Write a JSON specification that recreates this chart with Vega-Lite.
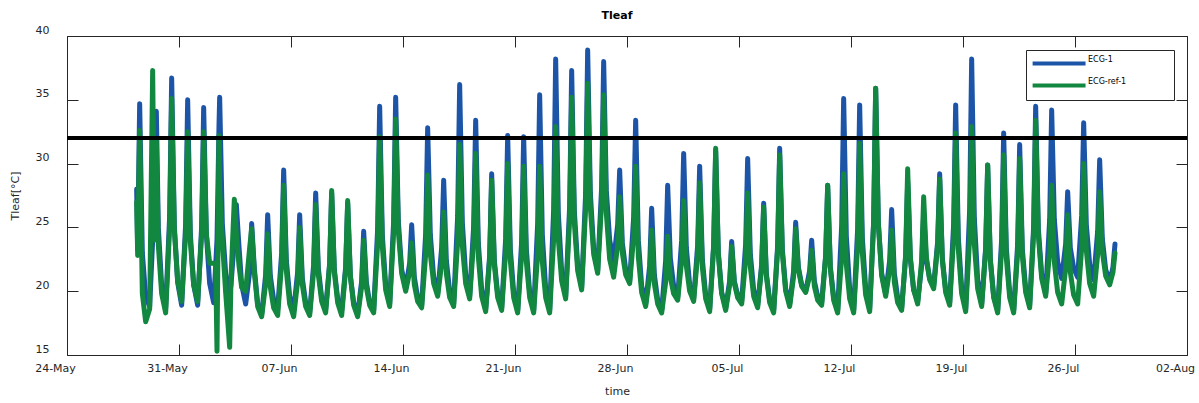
{
  "$schema": "https://vega.github.io/schema/vega-lite/v6.json",
  "width": 1120,
  "height": 319,
  "autosize": {"type": "none"},
  "padding": {"left": 67, "top": 36, "right": 12, "bottom": 48},
  "background": "white",
  "config": {
    "font": "DejaVu Sans",
    "view": {"stroke": "#262626", "strokeWidth": 1},
    "axis": {
      "grid": false, "domain": false,
      "labelFont": "DejaVu Sans", "labelFontSize": 11, "labelColor": "#262626",
      "titleFont": "DejaVu Sans", "titleFontSize": 11, "titleFontWeight": "normal", "titleColor": "#262626",
      "tickColor": "#262626", "tickSize": -11, "tickWidth": 1
    }
  },
  "title": {"text": "Tleaf", "font": "DejaVu Sans", "fontSize": 11, "fontWeight": "bold", "color": "#000000", "offset": 3, "dx": -10},
  "datasets": {
    "tleaf": [
      {"t":"2021-05-28T08:30","ECG-1":28.0,"ECG-ref-1":27.0},
      {"t":"2021-05-28T10:00","ECG-1":23.3,"ECG-ref-1":22.8},
      {"t":"2021-05-28T13:00","ECG-1":34.7,"ECG-ref-1":32.6},
      {"t":"2021-05-28T17:00","ECG-1":23.0,"ECG-ref-1":19.8},
      {"t":"2021-05-28T22:00","ECG-1":19.6,"ECG-ref-1":17.6},
      {"t":"2021-05-29T04:00","ECG-1":18.8,"ECG-ref-1":18.6},
      {"t":"2021-05-29T08:30","ECG-1":24.0,"ECG-ref-1":37.3},
      {"t":"2021-05-29T11:00","ECG-1":27.5,"ECG-ref-1":24.0},
      {"t":"2021-05-29T14:00","ECG-1":34.1,"ECG-ref-1":31.8},
      {"t":"2021-05-29T17:00","ECG-1":25.0,"ECG-ref-1":23.6},
      {"t":"2021-05-29T22:00","ECG-1":20.4,"ECG-ref-1":19.8},
      {"t":"2021-05-30T04:00","ECG-1":18.7,"ECG-ref-1":18.3},
      {"t":"2021-05-30T10:00","ECG-1":25.9,"ECG-ref-1":25.0},
      {"t":"2021-05-30T13:00","ECG-1":36.7,"ECG-ref-1":35.1},
      {"t":"2021-05-30T17:00","ECG-1":25.1,"ECG-ref-1":24.8},
      {"t":"2021-05-30T22:00","ECG-1":20.7,"ECG-ref-1":20.8},
      {"t":"2021-05-31T04:00","ECG-1":18.9,"ECG-ref-1":19.2},
      {"t":"2021-05-31T10:00","ECG-1":25.3,"ECG-ref-1":24.5},
      {"t":"2021-05-31T13:00","ECG-1":35.0,"ECG-ref-1":32.5},
      {"t":"2021-05-31T17:00","ECG-1":24.5,"ECG-ref-1":23.9},
      {"t":"2021-05-31T22:00","ECG-1":20.5,"ECG-ref-1":20.5},
      {"t":"2021-06-01T04:00","ECG-1":18.9,"ECG-ref-1":19.2},
      {"t":"2021-06-01T10:00","ECG-1":25.1,"ECG-ref-1":24.5},
      {"t":"2021-06-01T13:00","ECG-1":34.4,"ECG-ref-1":32.5},
      {"t":"2021-06-01T17:00","ECG-1":24.5,"ECG-ref-1":24.5},
      {"t":"2021-06-01T22:00","ECG-1":20.6,"ECG-ref-1":22.2},
      {"t":"2021-06-02T04:00","ECG-1":19.1,"ECG-ref-1":22.2},
      {"t":"2021-06-02T07:00","ECG-1":22.0,"ECG-ref-1":22.2},
      {"t":"2021-06-02T09:00","ECG-1":24.0,"ECG-ref-1":15.3},
      {"t":"2021-06-02T12:00","ECG-1":33.0,"ECG-ref-1":32.2},
      {"t":"2021-06-02T13:00","ECG-1":35.2,"ECG-ref-1":28.0},
      {"t":"2021-06-02T17:00","ECG-1":25.3,"ECG-ref-1":24.0},
      {"t":"2021-06-02T22:00","ECG-1":21.4,"ECG-ref-1":19.9},
      {"t":"2021-06-03T04:00","ECG-1":19.9,"ECG-ref-1":15.6},
      {"t":"2021-06-03T06:00","ECG-1":20.5,"ECG-ref-1":21.0},
      {"t":"2021-06-03T11:00","ECG-1":24.0,"ECG-ref-1":27.2},
      {"t":"2021-06-03T14:00","ECG-1":26.8,"ECG-ref-1":24.5},
      {"t":"2021-06-03T18:00","ECG-1":23.5,"ECG-ref-1":22.0},
      {"t":"2021-06-03T22:00","ECG-1":20.5,"ECG-ref-1":20.3},
      {"t":"2021-06-04T04:00","ECG-1":19.0,"ECG-ref-1":20.0},
      {"t":"2021-06-04T10:00","ECG-1":21.5,"ECG-ref-1":23.4},
      {"t":"2021-06-04T13:00","ECG-1":25.3,"ECG-ref-1":24.9},
      {"t":"2021-06-04T17:00","ECG-1":21.8,"ECG-ref-1":21.5},
      {"t":"2021-06-04T22:00","ECG-1":19.0,"ECG-ref-1":18.8},
      {"t":"2021-06-05T04:00","ECG-1":18.2,"ECG-ref-1":18.0},
      {"t":"2021-06-05T10:00","ECG-1":21.3,"ECG-ref-1":20.6},
      {"t":"2021-06-05T13:00","ECG-1":26.0,"ECG-ref-1":24.5},
      {"t":"2021-06-05T17:00","ECG-1":21.2,"ECG-ref-1":20.3},
      {"t":"2021-06-05T22:00","ECG-1":19.3,"ECG-ref-1":18.7},
      {"t":"2021-06-06T04:00","ECG-1":18.6,"ECG-ref-1":18.1},
      {"t":"2021-06-06T10:00","ECG-1":23.0,"ECG-ref-1":22.2},
      {"t":"2021-06-06T13:00","ECG-1":29.5,"ECG-ref-1":28.3},
      {"t":"2021-06-06T17:00","ECG-1":22.4,"ECG-ref-1":21.6},
      {"t":"2021-06-06T22:00","ECG-1":19.6,"ECG-ref-1":19.0},
      {"t":"2021-06-07T04:00","ECG-1":18.5,"ECG-ref-1":18.0},
      {"t":"2021-06-07T10:00","ECG-1":21.5,"ECG-ref-1":20.8},
      {"t":"2021-06-07T13:00","ECG-1":26.0,"ECG-ref-1":25.0},
      {"t":"2021-06-07T17:00","ECG-1":21.0,"ECG-ref-1":20.5},
      {"t":"2021-06-07T22:00","ECG-1":19.1,"ECG-ref-1":18.8},
      {"t":"2021-06-08T04:00","ECG-1":18.3,"ECG-ref-1":18.1},
      {"t":"2021-06-08T10:00","ECG-1":22.1,"ECG-ref-1":21.6},
      {"t":"2021-06-08T13:00","ECG-1":27.7,"ECG-ref-1":26.8},
      {"t":"2021-06-08T17:00","ECG-1":21.8,"ECG-ref-1":21.3},
      {"t":"2021-06-08T22:00","ECG-1":19.5,"ECG-ref-1":19.2},
      {"t":"2021-06-09T04:00","ECG-1":18.6,"ECG-ref-1":18.3},
      {"t":"2021-06-09T10:00","ECG-1":22.2,"ECG-ref-1":22.1},
      {"t":"2021-06-09T13:00","ECG-1":27.7,"ECG-ref-1":27.9},
      {"t":"2021-06-09T17:00","ECG-1":21.7,"ECG-ref-1":21.5},
      {"t":"2021-06-09T22:00","ECG-1":19.4,"ECG-ref-1":19.1},
      {"t":"2021-06-10T04:00","ECG-1":18.5,"ECG-ref-1":18.1},
      {"t":"2021-06-10T10:00","ECG-1":21.9,"ECG-ref-1":21.7},
      {"t":"2021-06-10T13:00","ECG-1":26.9,"ECG-ref-1":27.1},
      {"t":"2021-06-10T17:00","ECG-1":21.2,"ECG-ref-1":21.2},
      {"t":"2021-06-10T22:00","ECG-1":19.1,"ECG-ref-1":18.9},
      {"t":"2021-06-11T04:00","ECG-1":18.2,"ECG-ref-1":18.0},
      {"t":"2021-06-11T10:00","ECG-1":20.8,"ECG-ref-1":20.4},
      {"t":"2021-06-11T13:00","ECG-1":24.7,"ECG-ref-1":24.0},
      {"t":"2021-06-11T17:00","ECG-1":20.7,"ECG-ref-1":20.3},
      {"t":"2021-06-11T22:00","ECG-1":19.1,"ECG-ref-1":18.9},
      {"t":"2021-06-12T04:00","ECG-1":18.5,"ECG-ref-1":18.3},
      {"t":"2021-06-12T10:00","ECG-1":24.9,"ECG-ref-1":23.8},
      {"t":"2021-06-12T13:00","ECG-1":34.5,"ECG-ref-1":32.1},
      {"t":"2021-06-12T17:00","ECG-1":24.4,"ECG-ref-1":23.5},
      {"t":"2021-06-12T22:00","ECG-1":20.5,"ECG-ref-1":20.1},
      {"t":"2021-06-13T04:00","ECG-1":19.0,"ECG-ref-1":18.8},
      {"t":"2021-06-13T10:00","ECG-1":25.5,"ECG-ref-1":24.7},
      {"t":"2021-06-13T13:00","ECG-1":35.2,"ECG-ref-1":33.5},
      {"t":"2021-06-13T17:00","ECG-1":25.5,"ECG-ref-1":24.7},
      {"t":"2021-06-13T22:00","ECG-1":21.7,"ECG-ref-1":21.4},
      {"t":"2021-06-14T04:00","ECG-1":20.2,"ECG-ref-1":20.0},
      {"t":"2021-06-14T10:00","ECG-1":22.2,"ECG-ref-1":21.5},
      {"t":"2021-06-14T13:00","ECG-1":25.2,"ECG-ref-1":23.8},
      {"t":"2021-06-14T17:00","ECG-1":21.1,"ECG-ref-1":20.5},
      {"t":"2021-06-14T22:00","ECG-1":19.5,"ECG-ref-1":19.2},
      {"t":"2021-06-15T04:00","ECG-1":18.9,"ECG-ref-1":18.7},
      {"t":"2021-06-15T10:00","ECG-1":24.5,"ECG-ref-1":22.9},
      {"t":"2021-06-15T13:00","ECG-1":32.8,"ECG-ref-1":29.1},
      {"t":"2021-06-15T17:00","ECG-1":24.4,"ECG-ref-1":22.9},
      {"t":"2021-06-15T22:00","ECG-1":21.1,"ECG-ref-1":20.6},
      {"t":"2021-06-16T04:00","ECG-1":19.8,"ECG-ref-1":19.6},
      {"t":"2021-06-16T10:00","ECG-1":23.4,"ECG-ref-1":22.2},
      {"t":"2021-06-16T13:00","ECG-1":28.7,"ECG-ref-1":26.2},
      {"t":"2021-06-16T17:00","ECG-1":22.4,"ECG-ref-1":21.4},
      {"t":"2021-06-16T22:00","ECG-1":20.0,"ECG-ref-1":19.5},
      {"t":"2021-06-17T04:00","ECG-1":19.0,"ECG-ref-1":18.8},
      {"t":"2021-06-17T10:00","ECG-1":25.9,"ECG-ref-1":23.9},
      {"t":"2021-06-17T13:00","ECG-1":36.2,"ECG-ref-1":31.5},
      {"t":"2021-06-17T17:00","ECG-1":25.4,"ECG-ref-1":23.6},
      {"t":"2021-06-17T22:00","ECG-1":21.3,"ECG-ref-1":20.6},
      {"t":"2021-06-18T04:00","ECG-1":19.6,"ECG-ref-1":19.4},
      {"t":"2021-06-18T10:00","ECG-1":25.1,"ECG-ref-1":24.0},
      {"t":"2021-06-18T13:00","ECG-1":33.4,"ECG-ref-1":30.8},
      {"t":"2021-06-18T17:00","ECG-1":23.8,"ECG-ref-1":22.7},
      {"t":"2021-06-18T22:00","ECG-1":20.1,"ECG-ref-1":19.6},
      {"t":"2021-06-19T04:00","ECG-1":18.6,"ECG-ref-1":18.4},
      {"t":"2021-06-19T10:00","ECG-1":22.8,"ECG-ref-1":22.5},
      {"t":"2021-06-19T13:00","ECG-1":29.2,"ECG-ref-1":28.7},
      {"t":"2021-06-19T17:00","ECG-1":22.4,"ECG-ref-1":22.1},
      {"t":"2021-06-19T22:00","ECG-1":19.8,"ECG-ref-1":19.5},
      {"t":"2021-06-20T04:00","ECG-1":18.7,"ECG-ref-1":18.5},
      {"t":"2021-06-20T10:00","ECG-1":24.1,"ECG-ref-1":23.1},
      {"t":"2021-06-20T13:00","ECG-1":32.2,"ECG-ref-1":30.0},
      {"t":"2021-06-20T17:00","ECG-1":23.3,"ECG-ref-1":22.4},
      {"t":"2021-06-20T22:00","ECG-1":19.9,"ECG-ref-1":19.5},
      {"t":"2021-06-21T04:00","ECG-1":18.5,"ECG-ref-1":18.3},
      {"t":"2021-06-21T10:00","ECG-1":23.9,"ECG-ref-1":22.9},
      {"t":"2021-06-21T13:00","ECG-1":32.1,"ECG-ref-1":29.8},
      {"t":"2021-06-21T17:00","ECG-1":23.3,"ECG-ref-1":22.3},
      {"t":"2021-06-21T22:00","ECG-1":19.9,"ECG-ref-1":19.5},
      {"t":"2021-06-22T04:00","ECG-1":18.5,"ECG-ref-1":18.3},
      {"t":"2021-06-22T10:00","ECG-1":25.3,"ECG-ref-1":22.9},
      {"t":"2021-06-22T13:00","ECG-1":35.4,"ECG-ref-1":29.8},
      {"t":"2021-06-22T17:00","ECG-1":24.4,"ECG-ref-1":22.3},
      {"t":"2021-06-22T22:00","ECG-1":20.2,"ECG-ref-1":19.5},
      {"t":"2021-06-23T04:00","ECG-1":18.5,"ECG-ref-1":18.3},
      {"t":"2021-06-23T10:00","ECG-1":26.4,"ECG-ref-1":24.1},
      {"t":"2021-06-23T13:00","ECG-1":38.2,"ECG-ref-1":32.9},
      {"t":"2021-06-23T17:00","ECG-1":26.1,"ECG-ref-1":24.1},
      {"t":"2021-06-23T22:00","ECG-1":21.5,"ECG-ref-1":20.8},
      {"t":"2021-06-24T04:00","ECG-1":19.6,"ECG-ref-1":19.4},
      {"t":"2021-06-24T10:00","ECG-1":26.7,"ECG-ref-1":25.7},
      {"t":"2021-06-24T13:00","ECG-1":37.3,"ECG-ref-1":35.2},
      {"t":"2021-06-24T17:00","ECG-1":26.3,"ECG-ref-1":25.4},
      {"t":"2021-06-24T22:00","ECG-1":22.0,"ECG-ref-1":21.6},
      {"t":"2021-06-25T04:00","ECG-1":20.3,"ECG-ref-1":20.1},
      {"t":"2021-06-25T10:00","ECG-1":27.7,"ECG-ref-1":26.6},
      {"t":"2021-06-25T13:00","ECG-1":38.9,"ECG-ref-1":36.3},
      {"t":"2021-06-25T17:00","ECG-1":27.7,"ECG-ref-1":26.6},
      {"t":"2021-06-25T22:00","ECG-1":23.3,"ECG-ref-1":22.9},
      {"t":"2021-06-26T04:00","ECG-1":21.6,"ECG-ref-1":21.4},
      {"t":"2021-06-26T10:00","ECG-1":28.2,"ECG-ref-1":27.0},
      {"t":"2021-06-26T13:00","ECG-1":38.0,"ECG-ref-1":35.4},
      {"t":"2021-06-26T17:00","ECG-1":27.9,"ECG-ref-1":26.1},
      {"t":"2021-06-26T22:00","ECG-1":24.0,"ECG-ref-1":22.5},
      {"t":"2021-06-27T04:00","ECG-1":22.4,"ECG-ref-1":21.1},
      {"t":"2021-06-27T10:00","ECG-1":25.2,"ECG-ref-1":23.6},
      {"t":"2021-06-27T13:00","ECG-1":29.5,"ECG-ref-1":27.4},
      {"t":"2021-06-27T17:00","ECG-1":23.8,"ECG-ref-1":23.0},
      {"t":"2021-06-27T22:00","ECG-1":21.7,"ECG-ref-1":21.3},
      {"t":"2021-06-28T04:00","ECG-1":20.8,"ECG-ref-1":20.6},
      {"t":"2021-06-28T10:00","ECG-1":25.8,"ECG-ref-1":24.3},
      {"t":"2021-06-28T13:00","ECG-1":33.4,"ECG-ref-1":29.8},
      {"t":"2021-06-28T17:00","ECG-1":24.0,"ECG-ref-1":22.7},
      {"t":"2021-06-28T22:00","ECG-1":20.4,"ECG-ref-1":19.9},
      {"t":"2021-06-29T04:00","ECG-1":19.0,"ECG-ref-1":18.8},
      {"t":"2021-06-29T10:00","ECG-1":22.0,"ECG-ref-1":21.2},
      {"t":"2021-06-29T13:00","ECG-1":26.5,"ECG-ref-1":24.8},
      {"t":"2021-06-29T17:00","ECG-1":21.3,"ECG-ref-1":20.6},
      {"t":"2021-06-29T22:00","ECG-1":19.3,"ECG-ref-1":19.0},
      {"t":"2021-06-30T04:00","ECG-1":18.5,"ECG-ref-1":18.3},
      {"t":"2021-06-30T10:00","ECG-1":22.4,"ECG-ref-1":20.7},
      {"t":"2021-06-30T13:00","ECG-1":28.3,"ECG-ref-1":24.3},
      {"t":"2021-06-30T17:00","ECG-1":22.6,"ECG-ref-1":21.1},
      {"t":"2021-06-30T22:00","ECG-1":20.4,"ECG-ref-1":19.8},
      {"t":"2021-07-01T04:00","ECG-1":19.5,"ECG-ref-1":19.3},
      {"t":"2021-07-01T10:00","ECG-1":24.0,"ECG-ref-1":22.4},
      {"t":"2021-07-01T13:00","ECG-1":30.8,"ECG-ref-1":27.1},
      {"t":"2021-07-01T17:00","ECG-1":23.4,"ECG-ref-1":22.0},
      {"t":"2021-07-01T22:00","ECG-1":20.5,"ECG-ref-1":20.0},
      {"t":"2021-07-02T04:00","ECG-1":19.4,"ECG-ref-1":19.2},
      {"t":"2021-07-02T10:00","ECG-1":23.6,"ECG-ref-1":22.9},
      {"t":"2021-07-02T13:00","ECG-1":29.8,"ECG-ref-1":28.5},
      {"t":"2021-07-02T17:00","ECG-1":22.5,"ECG-ref-1":21.9},
      {"t":"2021-07-02T22:00","ECG-1":19.7,"ECG-ref-1":19.4},
      {"t":"2021-07-03T04:00","ECG-1":18.6,"ECG-ref-1":18.4},
      {"t":"2021-07-03T10:00","ECG-1":23.6,"ECG-ref-1":23.5},
      {"t":"2021-07-03T13:00","ECG-1":31.0,"ECG-ref-1":31.2},
      {"t":"2021-07-03T17:00","ECG-1":23.0,"ECG-ref-1":22.9},
      {"t":"2021-07-03T22:00","ECG-1":19.9,"ECG-ref-1":19.8},
      {"t":"2021-07-04T04:00","ECG-1":18.7,"ECG-ref-1":18.5},
      {"t":"2021-07-04T10:00","ECG-1":20.8,"ECG-ref-1":20.5},
      {"t":"2021-07-04T13:00","ECG-1":23.9,"ECG-ref-1":23.5},
      {"t":"2021-07-04T17:00","ECG-1":20.8,"ECG-ref-1":20.6},
      {"t":"2021-07-04T22:00","ECG-1":19.7,"ECG-ref-1":19.5},
      {"t":"2021-07-05T04:00","ECG-1":19.2,"ECG-ref-1":19.0},
      {"t":"2021-07-05T10:00","ECG-1":23.7,"ECG-ref-1":22.5},
      {"t":"2021-07-05T13:00","ECG-1":30.4,"ECG-ref-1":27.7},
      {"t":"2021-07-05T17:00","ECG-1":22.9,"ECG-ref-1":21.9},
      {"t":"2021-07-05T22:00","ECG-1":20.1,"ECG-ref-1":19.6},
      {"t":"2021-07-06T04:00","ECG-1":18.9,"ECG-ref-1":18.7},
      {"t":"2021-07-06T10:00","ECG-1":22.1,"ECG-ref-1":21.9},
      {"t":"2021-07-06T13:00","ECG-1":26.9,"ECG-ref-1":26.6},
      {"t":"2021-07-06T17:00","ECG-1":21.4,"ECG-ref-1":21.2},
      {"t":"2021-07-06T22:00","ECG-1":19.3,"ECG-ref-1":19.1},
      {"t":"2021-07-07T04:00","ECG-1":18.5,"ECG-ref-1":18.3},
      {"t":"2021-07-07T10:00","ECG-1":23.6,"ECG-ref-1":23.3},
      {"t":"2021-07-07T13:00","ECG-1":31.2,"ECG-ref-1":30.7},
      {"t":"2021-07-07T17:00","ECG-1":23.3,"ECG-ref-1":23.0},
      {"t":"2021-07-07T22:00","ECG-1":20.2,"ECG-ref-1":20.0},
      {"t":"2021-07-08T04:00","ECG-1":19.0,"ECG-ref-1":18.8},
      {"t":"2021-07-08T10:00","ECG-1":21.6,"ECG-ref-1":21.2},
      {"t":"2021-07-08T13:00","ECG-1":25.4,"ECG-ref-1":24.9},
      {"t":"2021-07-08T17:00","ECG-1":21.9,"ECG-ref-1":21.7},
      {"t":"2021-07-08T22:00","ECG-1":20.5,"ECG-ref-1":20.4},
      {"t":"2021-07-09T04:00","ECG-1":20.0,"ECG-ref-1":19.9},
      {"t":"2021-07-09T10:00","ECG-1":21.6,"ECG-ref-1":21.2},
      {"t":"2021-07-09T13:00","ECG-1":24.0,"ECG-ref-1":23.2},
      {"t":"2021-07-09T17:00","ECG-1":20.8,"ECG-ref-1":20.4},
      {"t":"2021-07-09T22:00","ECG-1":19.6,"ECG-ref-1":19.3},
      {"t":"2021-07-10T04:00","ECG-1":19.1,"ECG-ref-1":18.9},
      {"t":"2021-07-10T10:00","ECG-1":22.8,"ECG-ref-1":22.7},
      {"t":"2021-07-10T13:00","ECG-1":28.3,"ECG-ref-1":28.3},
      {"t":"2021-07-10T17:00","ECG-1":21.9,"ECG-ref-1":21.8},
      {"t":"2021-07-10T22:00","ECG-1":19.5,"ECG-ref-1":19.3},
      {"t":"2021-07-11T04:00","ECG-1":18.5,"ECG-ref-1":18.3},
      {"t":"2021-07-11T10:00","ECG-1":25.1,"ECG-ref-1":22.7},
      {"t":"2021-07-11T13:00","ECG-1":35.1,"ECG-ref-1":29.2},
      {"t":"2021-07-11T17:00","ECG-1":24.3,"ECG-ref-1":22.1},
      {"t":"2021-07-11T22:00","ECG-1":20.2,"ECG-ref-1":19.4},
      {"t":"2021-07-12T04:00","ECG-1":18.5,"ECG-ref-1":18.3},
      {"t":"2021-07-12T10:00","ECG-1":24.9,"ECG-ref-1":23.6},
      {"t":"2021-07-12T13:00","ECG-1":34.6,"ECG-ref-1":31.6},
      {"t":"2021-07-12T17:00","ECG-1":24.2,"ECG-ref-1":23.0},
      {"t":"2021-07-12T22:00","ECG-1":20.2,"ECG-ref-1":19.7},
      {"t":"2021-07-13T04:00","ECG-1":18.6,"ECG-ref-1":18.4},
      {"t":"2021-07-13T10:00","ECG-1":25.5,"ECG-ref-1":25.4},
      {"t":"2021-07-13T13:00","ECG-1":35.9,"ECG-ref-1":35.9},
      {"t":"2021-07-13T17:00","ECG-1":25.4,"ECG-ref-1":25.3},
      {"t":"2021-07-13T22:00","ECG-1":21.4,"ECG-ref-1":21.2},
      {"t":"2021-07-14T04:00","ECG-1":19.8,"ECG-ref-1":19.6},
      {"t":"2021-07-14T10:00","ECG-1":22.4,"ECG-ref-1":21.7},
      {"t":"2021-07-14T13:00","ECG-1":26.4,"ECG-ref-1":24.8},
      {"t":"2021-07-14T17:00","ECG-1":21.4,"ECG-ref-1":20.7},
      {"t":"2021-07-14T22:00","ECG-1":19.5,"ECG-ref-1":19.1},
      {"t":"2021-07-15T04:00","ECG-1":18.7,"ECG-ref-1":18.5},
      {"t":"2021-07-15T10:00","ECG-1":22.7,"ECG-ref-1":22.9},
      {"t":"2021-07-15T13:00","ECG-1":28.6,"ECG-ref-1":29.6},
      {"t":"2021-07-15T17:00","ECG-1":22.5,"ECG-ref-1":22.7},
      {"t":"2021-07-15T22:00","ECG-1":20.1,"ECG-ref-1":20.1},
      {"t":"2021-07-16T04:00","ECG-1":19.2,"ECG-ref-1":19.0},
      {"t":"2021-07-16T10:00","ECG-1":22.0,"ECG-ref-1":22.4},
      {"t":"2021-07-16T13:00","ECG-1":26.1,"ECG-ref-1":27.4},
      {"t":"2021-07-16T17:00","ECG-1":22.4,"ECG-ref-1":22.7},
      {"t":"2021-07-16T22:00","ECG-1":21.0,"ECG-ref-1":20.9},
      {"t":"2021-07-17T04:00","ECG-1":20.4,"ECG-ref-1":20.2},
      {"t":"2021-07-17T10:00","ECG-1":23.9,"ECG-ref-1":23.6},
      {"t":"2021-07-17T13:00","ECG-1":29.2,"ECG-ref-1":28.8},
      {"t":"2021-07-17T17:00","ECG-1":22.6,"ECG-ref-1":22.4},
      {"t":"2021-07-17T22:00","ECG-1":20.1,"ECG-ref-1":19.9},
      {"t":"2021-07-18T04:00","ECG-1":19.1,"ECG-ref-1":18.9},
      {"t":"2021-07-18T10:00","ECG-1":25.3,"ECG-ref-1":24.3},
      {"t":"2021-07-18T13:00","ECG-1":34.6,"ECG-ref-1":32.4},
      {"t":"2021-07-18T17:00","ECG-1":24.2,"ECG-ref-1":23.3},
      {"t":"2021-07-18T22:00","ECG-1":20.2,"ECG-ref-1":19.8},
      {"t":"2021-07-19T04:00","ECG-1":18.6,"ECG-ref-1":18.4},
      {"t":"2021-07-19T10:00","ECG-1":26.4,"ECG-ref-1":24.2},
      {"t":"2021-07-19T13:00","ECG-1":38.2,"ECG-ref-1":32.9},
      {"t":"2021-07-19T17:00","ECG-1":25.7,"ECG-ref-1":23.7},
      {"t":"2021-07-19T22:00","ECG-1":20.9,"ECG-ref-1":20.2},
      {"t":"2021-07-20T04:00","ECG-1":19.0,"ECG-ref-1":18.8},
      {"t":"2021-07-20T10:00","ECG-1":23.4,"ECG-ref-1":23.2},
      {"t":"2021-07-20T13:00","ECG-1":29.9,"ECG-ref-1":29.9},
      {"t":"2021-07-20T17:00","ECG-1":22.5,"ECG-ref-1":22.4},
      {"t":"2021-07-20T22:00","ECG-1":19.6,"ECG-ref-1":19.5},
      {"t":"2021-07-21T04:00","ECG-1":18.5,"ECG-ref-1":18.3},
      {"t":"2021-07-21T10:00","ECG-1":24.1,"ECG-ref-1":23.3},
      {"t":"2021-07-21T13:00","ECG-1":32.4,"ECG-ref-1":30.7},
      {"t":"2021-07-21T17:00","ECG-1":23.4,"ECG-ref-1":22.6},
      {"t":"2021-07-21T22:00","ECG-1":19.9,"ECG-ref-1":19.5},
      {"t":"2021-07-22T04:00","ECG-1":18.5,"ECG-ref-1":18.3},
      {"t":"2021-07-22T10:00","ECG-1":23.7,"ECG-ref-1":23.1},
      {"t":"2021-07-22T13:00","ECG-1":31.5,"ECG-ref-1":30.4},
      {"t":"2021-07-22T17:00","ECG-1":23.3,"ECG-ref-1":22.8},
      {"t":"2021-07-22T22:00","ECG-1":20.2,"ECG-ref-1":19.9},
      {"t":"2021-07-23T04:00","ECG-1":18.9,"ECG-ref-1":18.7},
      {"t":"2021-07-23T10:00","ECG-1":25.1,"ECG-ref-1":24.6},
      {"t":"2021-07-23T13:00","ECG-1":34.5,"ECG-ref-1":33.4},
      {"t":"2021-07-23T17:00","ECG-1":24.9,"ECG-ref-1":24.4},
      {"t":"2021-07-23T22:00","ECG-1":21.3,"ECG-ref-1":21.0},
      {"t":"2021-07-24T04:00","ECG-1":19.8,"ECG-ref-1":19.6},
      {"t":"2021-07-24T10:00","ECG-1":25.6,"ECG-ref-1":23.1},
      {"t":"2021-07-24T13:00","ECG-1":34.2,"ECG-ref-1":28.3},
      {"t":"2021-07-24T17:00","ECG-1":25.6,"ECG-ref-1":22.3},
      {"t":"2021-07-24T22:00","ECG-1":22.3,"ECG-ref-1":19.9},
      {"t":"2021-07-25T04:00","ECG-1":21.0,"ECG-ref-1":19.0},
      {"t":"2021-07-25T10:00","ECG-1":23.7,"ECG-ref-1":21.8},
      {"t":"2021-07-25T13:00","ECG-1":27.8,"ECG-ref-1":26.0},
      {"t":"2021-07-25T17:00","ECG-1":23.4,"ECG-ref-1":21.5},
      {"t":"2021-07-25T22:00","ECG-1":21.8,"ECG-ref-1":19.7},
      {"t":"2021-07-26T04:00","ECG-1":21.1,"ECG-ref-1":19.0},
      {"t":"2021-07-26T10:00","ECG-1":25.9,"ECG-ref-1":23.4},
      {"t":"2021-07-26T13:00","ECG-1":33.2,"ECG-ref-1":30.0},
      {"t":"2021-07-26T17:00","ECG-1":25.2,"ECG-ref-1":23.2},
      {"t":"2021-07-26T22:00","ECG-1":22.1,"ECG-ref-1":20.6},
      {"t":"2021-07-27T04:00","ECG-1":20.9,"ECG-ref-1":19.6},
      {"t":"2021-07-27T10:00","ECG-1":24.7,"ECG-ref-1":22.9},
      {"t":"2021-07-27T13:00","ECG-1":30.3,"ECG-ref-1":27.8},
      {"t":"2021-07-27T17:00","ECG-1":24.1,"ECG-ref-1":23.1},
      {"t":"2021-07-27T22:00","ECG-1":21.7,"ECG-ref-1":21.2},
      {"t":"2021-07-28T04:00","ECG-1":20.7,"ECG-ref-1":20.5},
      {"t":"2021-07-28T09:00","ECG-1":21.9,"ECG-ref-1":21.5},
      {"t":"2021-07-28T12:00","ECG-1":23.7,"ECG-ref-1":23.0}
    ]
  },
  "layer": [
    {
      "data": {"name": "tleaf"},
      "transform": [{"fold": ["ECG-1", "ECG-ref-1"], "as": ["series", "value"]}],
      "mark": {"type": "line", "strokeWidth": 5, "strokeJoin": "round", "strokeCap": "round"},
      "encoding": {
        "x": {
          "field": "t", "type": "temporal", "title": "time",
          "scale": {"domain": [{"year": 2021, "month": 5, "date": 24}, {"year": 2021, "month": 8, "date": 2}]},
          "axis": {
            "orient": "bottom", "format": "%d-%b", "formatType": "time",
            "values": [{"year": 2021, "month": 5, "date": 24}, {"year": 2021, "month": 5, "date": 31}, {"year": 2021, "month": 6, "date": 7}, {"year": 2021, "month": 6, "date": 14}, {"year": 2021, "month": 6, "date": 21}, {"year": 2021, "month": 6, "date": 28}, {"year": 2021, "month": 7, "date": 5}, {"year": 2021, "month": 7, "date": 12}, {"year": 2021, "month": 7, "date": 19}, {"year": 2021, "month": 7, "date": 26}, {"year": 2021, "month": 8, "date": 2}],
            "labelFlush": false, "labelOverlap": false, "labelPadding": 18, "labelOffset": -12,
            "titlePadding": 12, "titleX": 550
          }
        },
        "y": {
          "field": "value", "type": "quantitative", "title": "Tleaf[°C]",
          "scale": {"domain": [15, 40], "nice": false, "zero": false},
          "axis": {"orient": "left", "values": [15, 20, 25, 30, 35, 40], "labelPadding": 29, "labelOffset": -6, "titlePadding": 15}
        },
        "color": {
          "field": "series", "type": "nominal",
          "scale": {"domain": ["ECG-1", "ECG-ref-1"], "range": ["#1c55a8", "#12873f"]},
          "legend": {
            "orient": "none", "legendX": 959, "legendY": 14,
            "title": "\u00a0", "titleOrient": "right", "titlePadding": 42, "titleFontSize": 8,
            "symbolType": "M-1.3,0H8.7", "symbolSize": 112, "symbolStrokeWidth": 4,
            "labelFont": "DejaVu Sans", "labelFontSize": 8, "labelColor": "#000000", "labelBaseline": "bottom",
            "labelOffset": 41, "padding": 6, "rowPadding": 5,
            "fillColor": "white", "strokeColor": "#262626"
          }
        }
      }
    },
    {
      "data": {"values": [{"level": 32}]},
      "mark": {"type": "rule", "color": "#000000", "strokeWidth": 4},
      "encoding": {
        "y": {
          "field": "level", "type": "quantitative",
          "scale": {"domain": [15, 40], "nice": false, "zero": false},
          "axis": {"orient": "right", "labels": false, "title": null, "values": [15, 20, 25, 30, 35, 40]}
        }
      }
    },
    {
      "data": {"name": "tleaf"},
      "mark": {"type": "point", "opacity": 0},
      "encoding": {
        "x": {
          "field": "t", "type": "temporal",
          "scale": {"domain": [{"year": 2021, "month": 5, "date": 24}, {"year": 2021, "month": 8, "date": 2}]},
          "axis": {"orient": "top", "labels": false, "title": null, "values": [{"year": 2021, "month": 5, "date": 24}, {"year": 2021, "month": 5, "date": 31}, {"year": 2021, "month": 6, "date": 7}, {"year": 2021, "month": 6, "date": 14}, {"year": 2021, "month": 6, "date": 21}, {"year": 2021, "month": 6, "date": 28}, {"year": 2021, "month": 7, "date": 5}, {"year": 2021, "month": 7, "date": 12}, {"year": 2021, "month": 7, "date": 19}, {"year": 2021, "month": 7, "date": 26}, {"year": 2021, "month": 8, "date": 2}]}
        },
        "y": {"field": "ECG-1", "type": "quantitative", "scale": {"domain": [15, 40], "nice": false, "zero": false}, "axis": null}
      }
    }
  ],
  "resolve": {"axis": {"x": "independent", "y": "independent"}}
}
